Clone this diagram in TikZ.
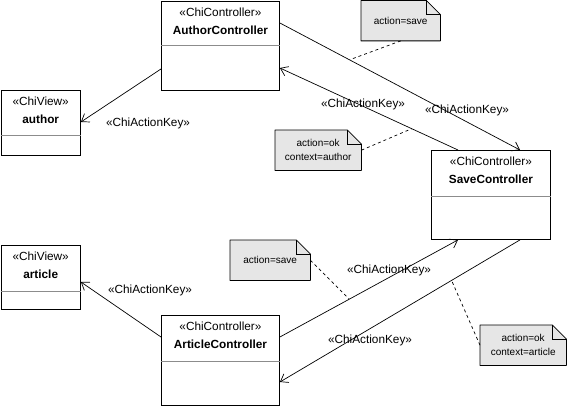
\documentclass[tikz,border=0pt]{standalone}
\usepackage{fontspec}
\setmainfont{Liberation Sans}
\usetikzlibrary{
  calc, % For offsets along the box sides
  arrows.meta, % For the open arrow tips
  backgrounds % For the note bodies behind their text
}
\definecolor{notegray}{RGB}{230,230,230}
\definecolor{sepgray}{RGB}{140,140,140}

\begin{document}
\begin{tikzpicture}[
      x=1pt, y=-1pt, % Pixel units, y pointing down
      >={Straight Barb[length=7pt, width=10pt]}, % Default arrow tip
      classbox/.style={draw, line width=0.9pt, fill=white, anchor=north west, inner sep=0pt}, % Class frame
      stereo/.style={font=\fontsize{11.8}{14}\selectfont}, % Stereotype text
      cname/.style={font=\fontsize{11.8}{14}\selectfont\bfseries}, % Class name
      keylabel/.style={font=\fontsize{11.8}{14}\selectfont}, % Connector labels
      assoc/.style={line width=0.7pt, ->}, % Style for associations
      notebox/.style={anchor=north west, inner sep=0pt, align=center, font=\fontsize{10}{14}\selectfont}, % Note text
      notelink/.style={line width=0.7pt, dash pattern=on 3pt off 3pt}, % Note connectors
    ]

    % Rahmen
    \useasboundingbox (0,0) rectangle (567,409);
    \def\fold{14pt}

    % Klassen: Name/x/y/Breite/Hoehe/Trennlinie/Stereotyp/Titel
    \foreach \n/\x/\y/\w/\h/\sep/\ster/\cls in {
        authorctl/161/1/118/89/44/ChiController/AuthorController,
        author/0.5/90/79.5/65/45/ChiView/author,
        savectl/431/150/119/89/46/ChiController/SaveController,
        article/0.5/245/79.5/64/46/ChiView/article,
        articlectl/161/315/118/90/46/ChiController/ArticleController}
    {
      \node[classbox, minimum width=\w pt, minimum height=\h pt] (\n) at (\x,\y) {};
      \node[stereo] (\n-st) at ($(\n.north)+(0,11.5)$) {«\ster»};
      \node[cname] (\n-nm) at ($(\n.north)+(0,29.5)$) {\cls};
      \draw[sepgray, line width=0.8pt] ($(\n.north west)+(0,\sep)$) -- ($(\n.north east)+(0,\sep)$);
    }

    % Assoziationen
    \draw[assoc] ($(authorctl.north west)+(0,68)$) -- ($(author.north east)+(0,32)$);
    \draw[assoc] ($(authorctl.north east)+(0,22)$) -- coordinate[pos=0.29] (on-save-a)
      ($(savectl.north west)+(89,0)$);
    \draw[assoc] ($(savectl.north west)+(27,0)$) -- coordinate[pos=0.26] (on-ok-a)
      ($(authorctl.north east)+(0,67)$);
    \draw[assoc] ($(articlectl.north west)+(0,22)$) -- ($(article.north east)+(0,37)$);
    \draw[assoc] ($(articlectl.north east)+(0,22)$) -- coordinate[pos=0.39] (on-save-b)
      ($(savectl.south west)+(27,0)$);
    \draw[assoc] ($(savectl.south west)+(89,0)$) -- coordinate[pos=0.285] (on-ok-b)
      ($(articlectl.north east)+(0,67)$);

    % Beschriftungen
    \node[keylabel] (key-author)   at (148,123) {«ChiActionKey»};
    \node[keylabel] (key-save-a)   at (467,110) {«ChiActionKey»};
    \node[keylabel] (key-ok-a)     at (363,104) {«ChiActionKey»};
    \node[keylabel] (key-article)  at (150,290) {«ChiActionKey»};
    \node[keylabel] (key-save-b)   at (389,270) {«ChiActionKey»};
    \node[keylabel] (key-ok-b)     at (370,340) {«ChiActionKey»};

    % Notizen
    \node[notebox, minimum width=79pt, minimum height=40pt] (note-save-a) at (361,0.5) {action=save};
    \node[notebox, minimum width=86pt, minimum height=40pt] (note-ok-a) at (275,130) {action=ok\\context=author};
    \node[notebox, minimum width=80pt, minimum height=40pt] (note-save-b) at (230,240) {action=save};
    \node[notebox, minimum width=86pt, minimum height=40pt] (note-ok-b) at (480,325) {action=ok\\context=article};

    \begin{scope}[on background layer]
      \foreach \m in {note-save-a, note-ok-a, note-save-b, note-ok-b}
      \draw[fill=notegray, line width=0.8pt, line join=round] (\m.north west) -- ([xshift=-\fold]\m.north east)
        -- ([yshift=-\fold]\m.north east) -- (\m.south east) -- (\m.south west) -- cycle;
    \end{scope}
    \foreach \m in {note-save-a, note-ok-a, note-save-b, note-ok-b}
    \draw[line width=0.8pt] ([xshift=-\fold]\m.north east) -- ([xshift=-\fold, yshift=-\fold]\m.north east)
      -- ([yshift=-\fold]\m.north east);

    % Verbindungen zu den Notizen
    \draw[notelink] (note-save-a.south) -- (on-save-a);
    \draw[notelink] (note-ok-a.east) -- (on-ok-a);
    \draw[notelink] (note-save-b.east) -- (on-save-b);
    \draw[notelink] (note-ok-b.west) -- (on-ok-b);

  \end{tikzpicture}
\end{document}
